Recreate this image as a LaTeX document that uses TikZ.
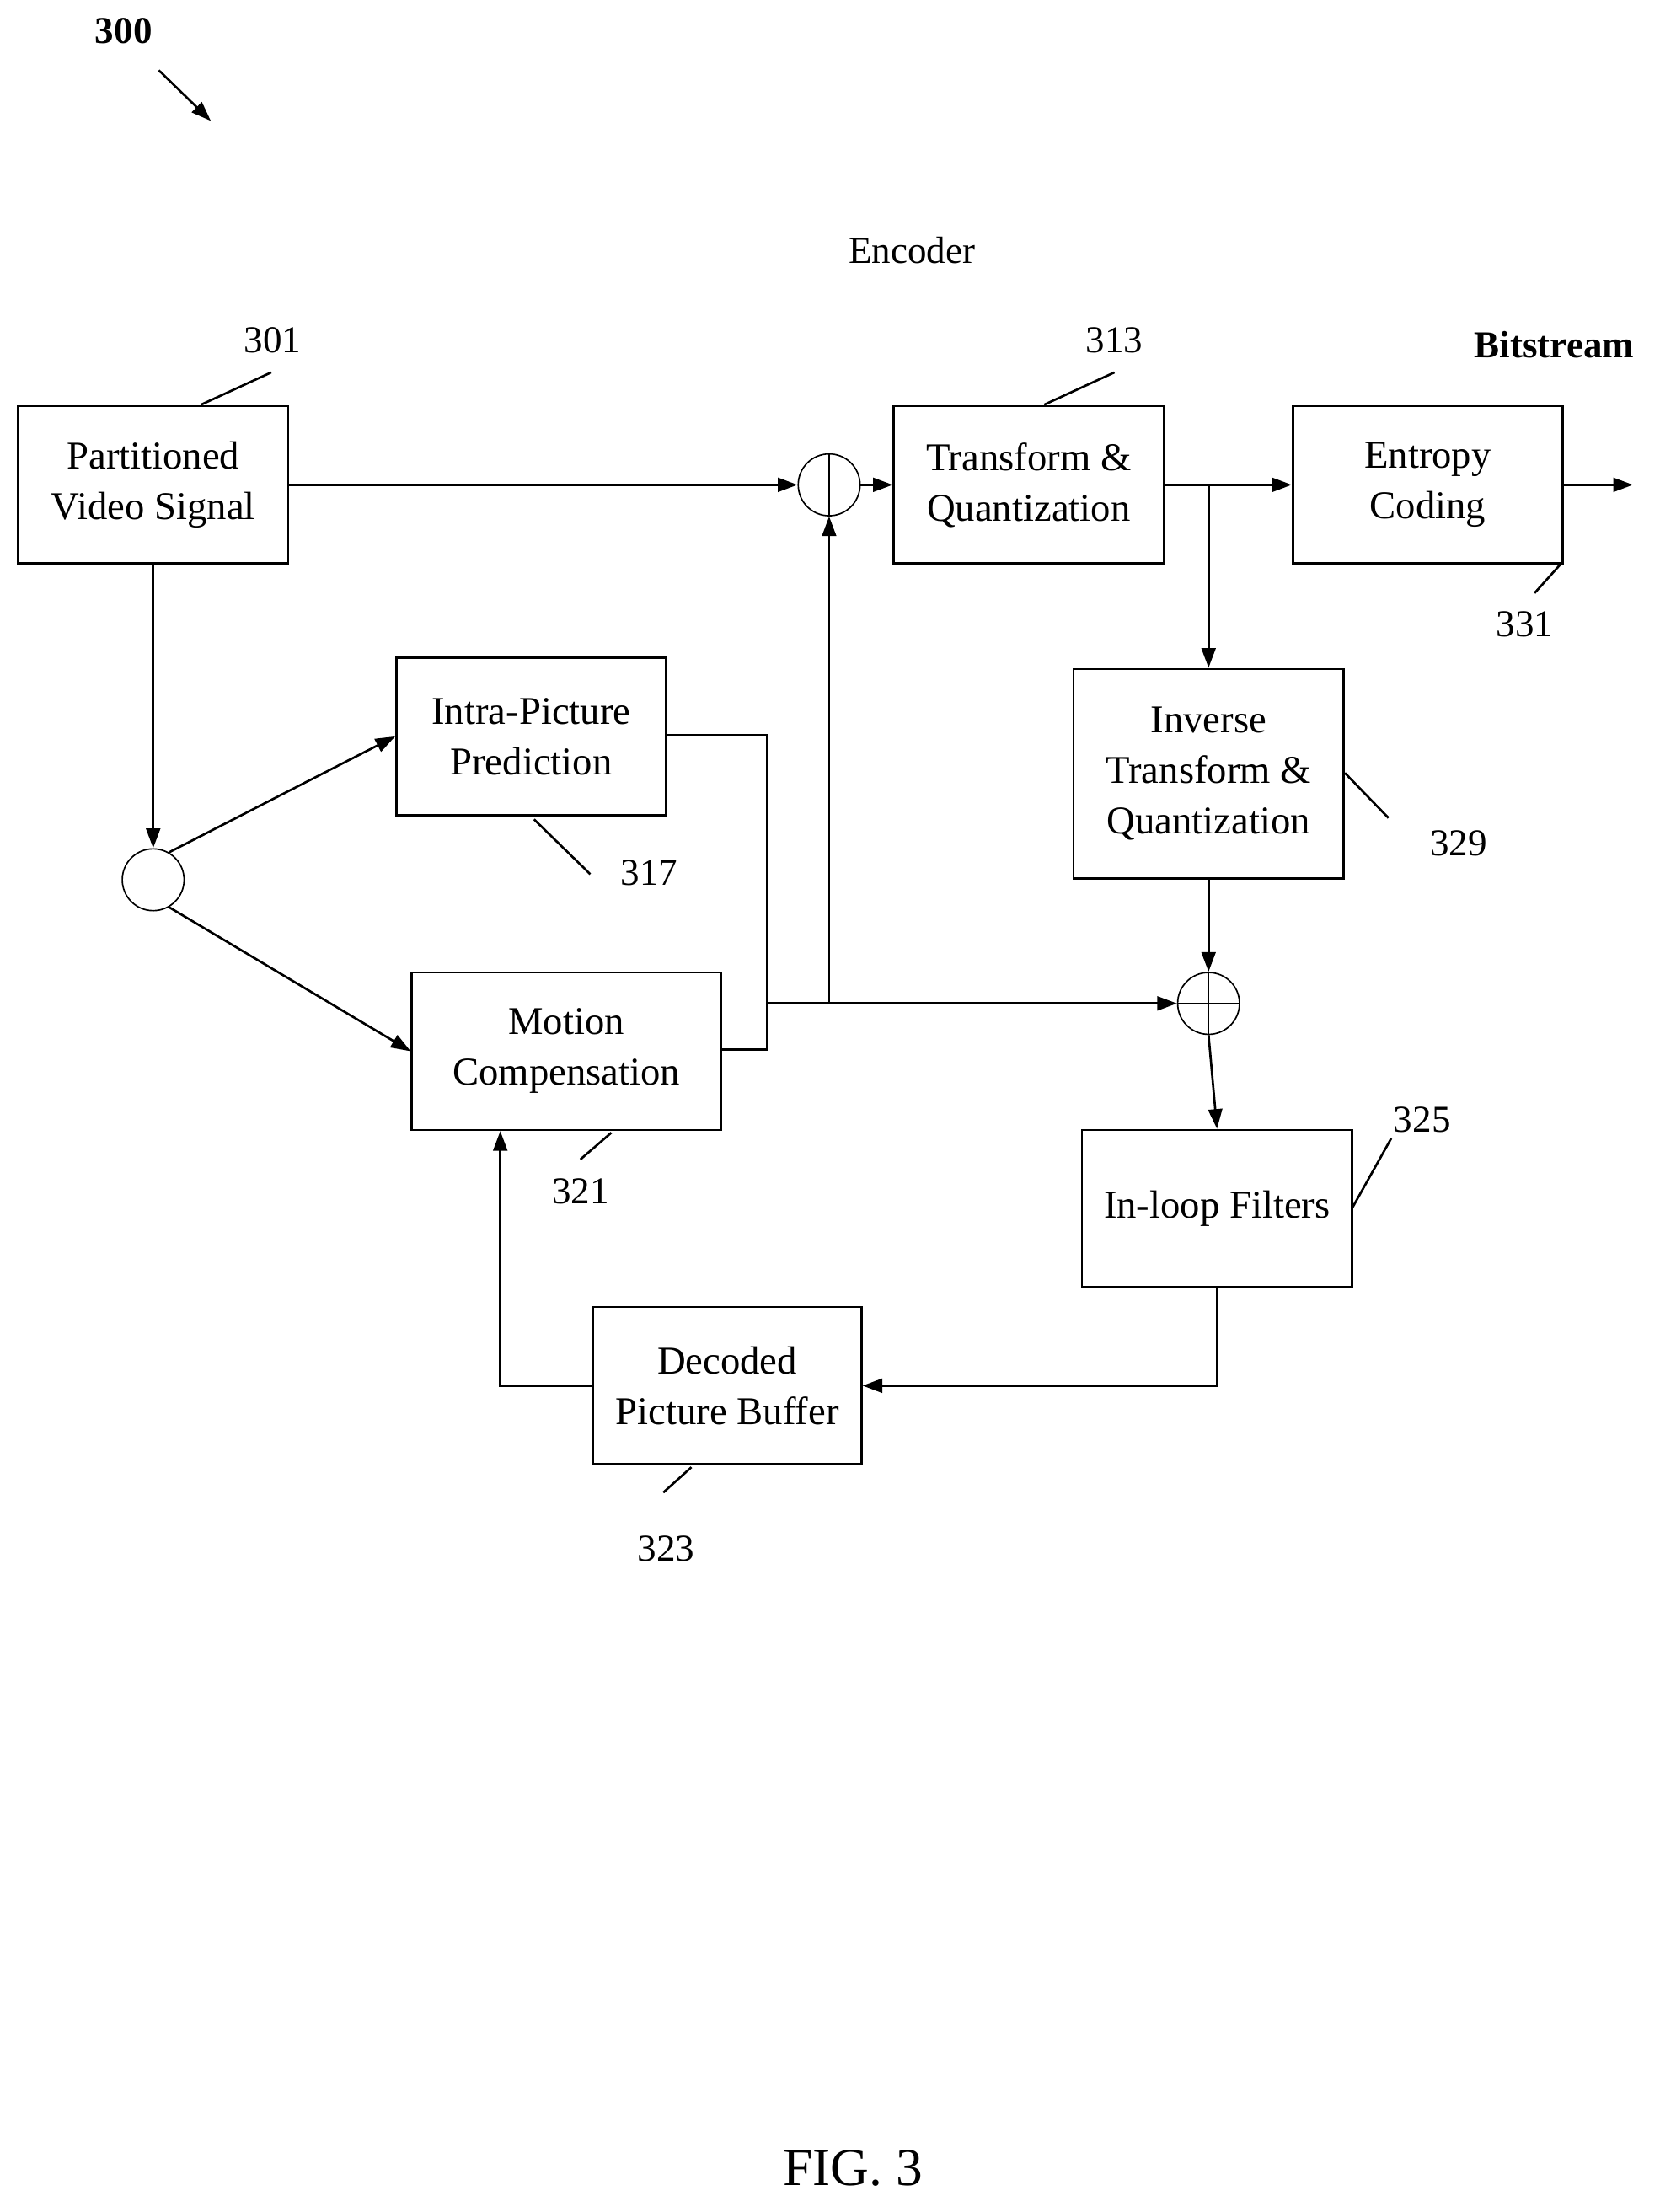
\documentclass[tikz,border=0pt]{standalone}
\usepackage{fontspec}
\setmainfont{Liberation Serif}
\usetikzlibrary{arrows.meta}
\begin{document}
\begin{tikzpicture}[x=1pt,y=-1pt,
  blk/.style={draw,line width=1.6pt,minimum width=192pt,minimum height=112pt,inner sep=0pt,align=center,font=\fontsize{28}{36}\selectfont},
  lab/.style={font=\fontsize{27}{32}\selectfont},
  ln/.style={line width=1.6pt},
  ar/.style={line width=1.6pt,-{Triangle[length=14pt,width=10pt]}},
  circ/.style={draw,line width=1pt,circle,minimum size=44pt,inner sep=0pt}]
\useasboundingbox (0,0) rectangle (1181,1574);
\node[lab,font=\bfseries\fontsize{27}{32}\selectfont] (n300) at (88,22) {300};
\coordinate (a1) at (113,50); \coordinate (a2) at (150,86);
\draw[ar] (a1) -- (a2);
\node[lab] (enc) at (649,178) {Encoder};
\node[lab,font=\bfseries\fontsize{27}{32}\selectfont] (bs) at (1106,245) {Bitstream};

\node[blk] (pvs) at (109,345) {Partitioned\\Video Signal};
\node[blk] (tq) at (732,345) {Transform \&\\Quantization};
\node[blk] (ec) at (1016,345) {Entropy\\Coding};
\node[blk,minimum height=149pt] (itq) at (860,550.5) {Inverse\\Transform \&\\Quantization};
\node[blk] (ilf) at (866,860) {In-loop Filters};
\node[blk,minimum width=191pt] (dpb) at (517.5,986) {Decoded\\Picture Buffer};
\node[blk,minimum width=220pt] (mc) at (403,748) {Motion\\Compensation};
\node[blk] (ipp) at (378,524) {Intra-Picture\\Prediction};

\node[circ] (s1) at (590,345) {};
\draw[line width=1pt] (s1.north)--(s1.south) (s1.west)--(s1.east);
\node[circ] (s2) at (860,714) {};
\draw[line width=1pt] (s2.north)--(s2.south) (s2.west)--(s2.east);
\node[circ] (sw) at (109,626) {};

% labels
\node[lab] (l301) at (194,242) {301};
\draw[ln] (143,288) -- (193,265);
\node[lab] (l313) at (793,242) {313};
\draw[ln] (743,288) -- (793,265);
\node[lab] (l331) at (1085,444) {331};
\draw[ln] (1092,422) -- (1110,402);
\node[lab] (l329) at (1038,600) {329};
\draw[ln] (957,550) -- (988,582);
\node[lab] (l325) at (1012,797) {325};
\draw[ln] (962,860) -- (990,810);
\node[lab] (l323) at (474,1102) {323};
\draw[ln] (472,1062) -- (492,1044);
\node[lab] (l321) at (413,848) {321};
\draw[ln] (413,825) -- (435,806);
\node[lab] (l317) at (462,621) {317};
\draw[ln] (380,583) -- (420,622);

% connectors
\draw[ar] (pvs.east) -- (s1.west);
\draw[ar] (s1.east) -- (tq.west);
\draw[ar] (tq.east) -- (ec.west);
\coordinate (out) at (1162,345);
\draw[ar] (ec.east) -- (out);
\coordinate (b1) at (860,345);
\draw[ar] (b1) -- (itq.north);
\draw[ar] (itq.south) -- (s2.north);
\draw[ar] (s2.south) -- (ilf.north);
\draw[ar] (ilf.south) |- (dpb.east);
\draw[ar] (dpb.west) -| (mc.south -| 356,0);
\draw[ar] (pvs.south) -- (sw.north);
\draw[ar] (sw.60) -- (ipp.west);
\draw[ar] (sw.-60) -- (mc.west);
\coordinate (j1) at (546,523); \coordinate (j2) at (546,747);
\coordinate (j3) at (546,714); \coordinate (j4) at (590,714);
\draw[ln] (ipp.east |- j1) -- (j1) -- (j2) -- (mc.east |- j2);
\draw[ar] (j3) -- (s2.west);
\draw[ar] (j4) -- (s1.south);

\node[font=\fontsize{38}{44}\selectfont] (fig) at (607,1543) {FIG. 3};
\end{tikzpicture}
\end{document}
